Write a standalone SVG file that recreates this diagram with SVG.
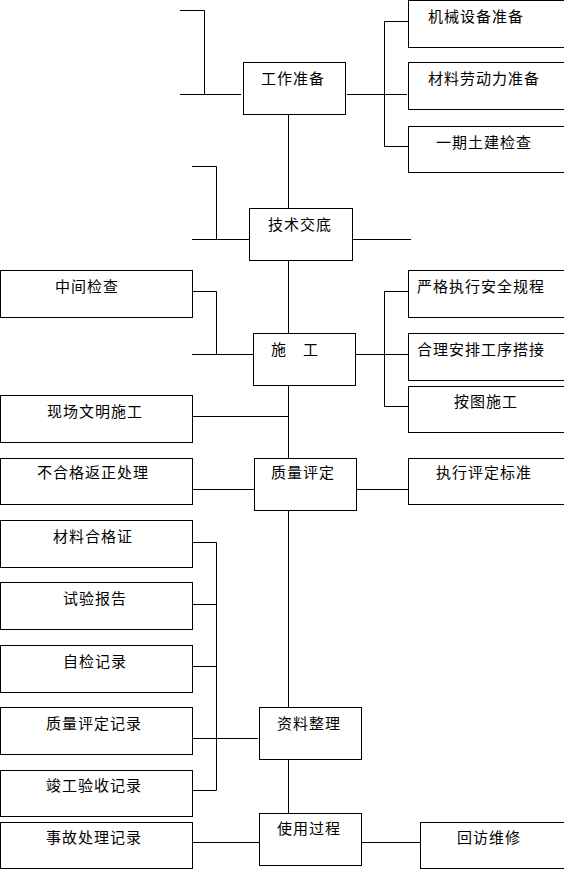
<svg xmlns="http://www.w3.org/2000/svg" width="564" height="874" viewBox="0 0 564 874">
<style>
.b{fill:#fff;stroke:#000;stroke-width:1}
.t{font-family:"Noto Sans CJK SC","Noto Sans",sans-serif;font-size:15px;letter-spacing:1px;fill:#000}
.c{fill:none;stroke:#000;stroke-width:1}
</style>
<rect width="564" height="874" fill="#fff"/>
<g id="connectors" class="c">
<path d="M180,10.5H204.5V94.5M180,94.5H241"/>
<path d="M347,94.5H407M384.5,21.5V146.5M384.5,21.5H408M384.5,146.5H408"/>
<path d="M288.5,114V208M288.5,260V333M288.5,385V458M288.5,510V707M288.5,759V813"/>
<path d="M192,166.5H216.5V239.5M192,239.5H253M351,239.5H411"/>
<path d="M192,291.5H216.5V354.5M192,354.5H253"/>
<path d="M355,354.5H408M384.5,291.5V406.5M384.5,291.5H408M384.5,406.5H408"/>
<path d="M192,416.5H288"/>
<path d="M192,489.5H254M356,489.5H408"/>
<path d="M192,542.5H216.5V790.5H192M192,604.5H216.5M192,666.5H216.5M192,738.5H258"/>
<path d="M192,842.5H259M361,842.5H420"/>
</g>
<g id="n1"><rect class="b" x="243.5" y="62.5" width="102" height="52"/><text class="t" x="261" y="84">工作准备</text></g>
<g id="n2"><rect class="b" x="408.5" y="0.5" width="170" height="47"/><text class="t" x="428" y="22">机械设备准备</text></g>
<g id="n3"><rect class="b" x="408.5" y="62.5" width="170" height="47"/><text class="t" x="428" y="84">材料劳动力准备</text></g>
<g id="n4"><rect class="b" x="408.5" y="126.5" width="170" height="46"/><text class="t" x="436" y="148">一期土建检查</text></g>
<g id="n5"><rect class="b" x="249.5" y="208.5" width="103" height="52"/><text class="t" x="268" y="230">技术交底</text></g>
<g id="n6"><rect class="b" x="0.5" y="270.5" width="192" height="47"/><text class="t" x="55" y="292">中间检查</text></g>
<g id="n7"><rect class="b" x="253.5" y="333.5" width="102" height="52"/><text class="t" x="271" y="355" xml:space="preserve">施　工</text></g>
<g id="n8"><rect class="b" x="408.5" y="270.5" width="170" height="47"/><text class="t" x="417" y="292">严格执行安全规程</text></g>
<g id="n9"><rect class="b" x="408.5" y="333.5" width="170" height="47"/><text class="t" x="417" y="355">合理安排工序搭接</text></g>
<g id="n10"><rect class="b" x="408.5" y="386.5" width="170" height="46"/><text class="t" x="454" y="407">按图施工</text></g>
<g id="n11"><rect class="b" x="0.5" y="395.5" width="192" height="47"/><text class="t" x="47" y="417">现场文明施工</text></g>
<g id="n12"><rect class="b" x="0.5" y="458.5" width="192" height="46"/><text class="t" x="37" y="478">不合格返正处理</text></g>
<g id="n13"><rect class="b" x="254.5" y="458.5" width="102" height="52"/><text class="t" x="271" y="478">质量评定</text></g>
<g id="n14"><rect class="b" x="408.5" y="458.5" width="170" height="46"/><text class="t" x="436" y="478">执行评定标准</text></g>
<g id="n15"><rect class="b" x="0.5" y="520.5" width="192" height="47"/><text class="t" x="53" y="542">材料合格证</text></g>
<g id="n16"><rect class="b" x="0.5" y="582.5" width="192" height="47"/><text class="t" x="63" y="604">试验报告</text></g>
<g id="n17"><rect class="b" x="0.5" y="645.5" width="192" height="47"/><text class="t" x="63" y="667">自检记录</text></g>
<g id="n18"><rect class="b" x="0.5" y="707.5" width="192" height="47"/><text class="t" x="46" y="729">质量评定记录</text></g>
<g id="n19"><rect class="b" x="0.5" y="770.5" width="192" height="46"/><text class="t" x="46" y="791">竣工验收记录</text></g>
<g id="n20"><rect class="b" x="259.5" y="707.5" width="102" height="52"/><text class="t" x="277" y="729">资料整理</text></g>
<g id="n21"><rect class="b" x="0.5" y="822.5" width="192" height="46"/><text class="t" x="46" y="843">事故处理记录</text></g>
<g id="n22"><rect class="b" x="259.5" y="813.5" width="102" height="52"/><text class="t" x="277" y="834">使用过程</text></g>
<g id="n23"><rect class="b" x="420.5" y="822.5" width="160" height="46"/><text class="t" x="457" y="843">回访维修</text></g>
</svg>
